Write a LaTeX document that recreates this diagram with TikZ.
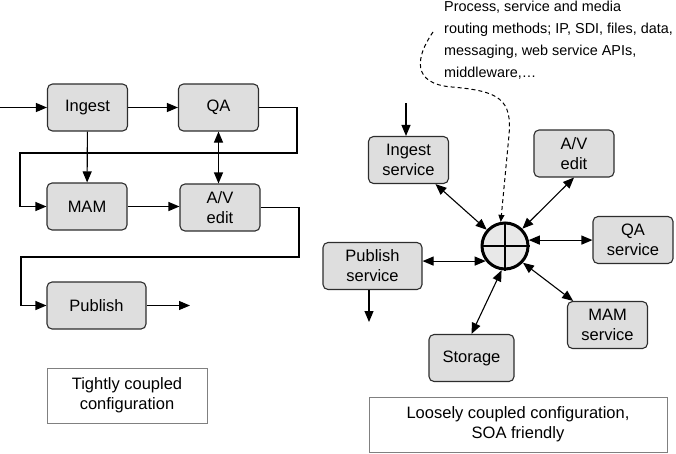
\documentclass[tikz,border=0pt]{standalone}
\usepackage{fontspec}
\setmainfont{Liberation Sans}
\usetikzlibrary{arrows.meta,positioning}
\definecolor{boxgray}{RGB}{222,222,222}
\definecolor{hubgray}{RGB}{232,232,232}
\definecolor{edgegray}{RGB}{45,45,45}
\tikzset{
  svc/.style={draw=edgegray,fill=boxgray,rounded corners=5pt,line width=1.1pt,minimum width=80pt,minimum height=47pt,align=center,inner sep=2pt},
  note/.style={draw=gray,line width=1pt,align=center,minimum height=55pt},
  link/.style={-{Triangle[length=11pt,width=9pt]},line width=1.1pt},
  dlink/.style={{Triangle[length=11pt,width=9pt]}-{Triangle[length=11pt,width=9pt]},line width=1.1pt}
}
\begin{document}
\begin{tikzpicture}[x=1pt,y=-1pt,font=\fontsize{16.5}{20}\selectfont]
  \useasboundingbox (0,0) rectangle (676,453);
  % tightly coupled chain
  \node[svc] (ingest) at (87.5,107.5) {Ingest};
  \node[svc] (qa) at (218.5,107.5) {QA};
  \node[svc] (mam) at (87,206.5) {MAM};
  \node[svc] (avedit) at (220,207.5) {A/V\\edit};
  \node[svc,minimum width=99pt] (publish) at (96.5,305.5) {Publish};
  \coordinate (in) at (0,107.5);
  \coordinate (out) at (190,305.5);
  \coordinate (loopA) at (297,153);
  \coordinate (loopB) at (20,153);
  \coordinate (loopC) at (299,257);
  \coordinate (loopD) at (21,257);
  \draw[link] (in) -- (ingest.west);
  \draw[link] (ingest) -- (qa);
  \draw[link] (ingest) -- (mam);
  \draw[dlink] (qa) -- (qa |- avedit.north);
  \draw[link] (mam) -- (mam -| avedit.west);
  \draw[link] (qa.east) -| (loopA) -- (loopB) |- (mam.west);
  \draw[link] (avedit.east) -| (loopC) -- (loopD) |- (publish.west);
  \draw[link] (publish) -- (out);
  \node[note,minimum width=160pt] (tight) at (127,395.5) {Tightly coupled\\configuration};
  % loosely coupled services
  \node[svc] (ingsvc) at (408.5,160) {Ingest\\service};
  \node[svc] (avsvc) at (574,153.5) {A/V\\edit};
  \node[svc] (qasvc) at (633,240) {QA\\service};
  \node[svc,minimum width=99pt] (pubsvc) at (372.5,266) {Publish\\service};
  \node[svc,minimum width=85pt] (storage) at (471.5,358) {Storage};
  \node[svc] (mamsvc) at (607.5,325) {MAM\\service};
  \node[circle,draw=black,line width=3pt,fill=hubgray,minimum size=46pt,inner sep=0pt] (hub) at (505,246) {};
  \draw[line width=2.6pt] (hub.north) -- (hub.south) (hub.west) -- (hub.east);
  \coordinate (ingsrc) at (406,103);
  \coordinate (pubout) at (369,322);
  \draw[link] (ingsrc) -- (ingsrc |- ingsvc.north);
  \draw[link] (pubout |- pubsvc.south) -- (pubout);
  \draw[dlink] (ingsvc) -- (hub);
  \draw[dlink] (avsvc.south) -- (hub);
  \draw[dlink] (hub.14) -- (hub.14 -| qasvc.west);
  \draw[dlink] (hub.218) -- (hub.218 -| pubsvc.east);
  \draw[dlink] (hub.262) -- (storage.north);
  \draw[dlink] (hub.-43) -- (mamsvc.145);
  \node[note,minimum width=298pt] (loose) at (518,424.5) {Loosely coupled configuration,\\SOA friendly};
  % routing methods callout
  \node[anchor=north west,align=left,inner sep=0pt,font=\fontsize{14.4}{22}\selectfont] (routing) at (444,1) {Process, service and media\\routing methods; IP, SDI, files, data,\\messaging, web service APIs,\\middleware,\dots};
  \coordinate (dstart) at (433,32);
  \draw[-{Triangle[length=7pt,width=6pt]},line width=1pt,dash pattern=on 4pt off 3pt] (dstart) .. controls (415,58) and (412,84) .. (452,87) .. controls (500,91) and (512,100) .. (509,135) -- (hub.100);
\end{tikzpicture}
\end{document}
